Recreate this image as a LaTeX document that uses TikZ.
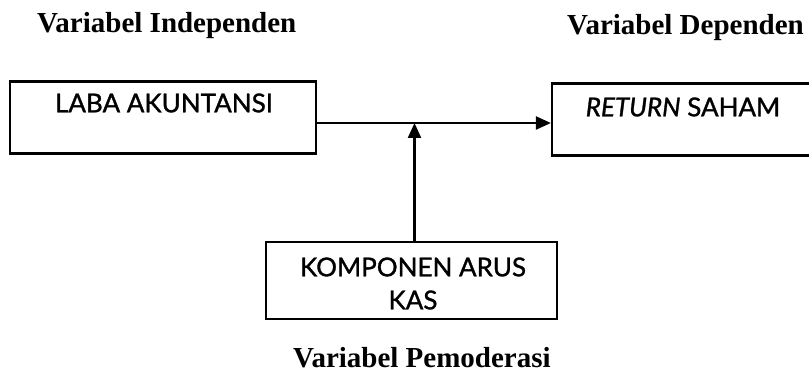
\documentclass[tikz,border=0pt]{standalone}
\usepackage{fontspec}
\setmainfont{Liberation Serif}
\newfontfamily\boxfont[FakeBold=1.2]{Lato}
\usetikzlibrary{arrows.meta}

\tikzset{
  varbox/.style={draw, line width=2.2pt, inner sep=0pt, minimum width=#1},
  boxtext/.style={font=\boxfont\fontsize{26}{33}\selectfont, inner sep=0pt, align=center},
  heading/.style={font=\bfseries\fontsize{29}{33}\selectfont, inner sep=0pt, anchor=base west},
  link/.style={line width=2.2pt, -{Triangle[length=15pt,width=13pt]}}
}

\begin{document}
\begin{tikzpicture}[x=1pt, y=-1pt]
  \useasboundingbox (0,0) rectangle (809,374);

  % column headings
  \node[heading] (hind) at (37,33) {Variabel Independen};
  \node[heading] (hdep) at (567,35) {Variabel Dependen};
  \node[heading] (hmod) at (293,367) {Variabel Pemoderasi};

  % variable boxes
  \node[varbox=306pt, minimum height=72pt] (lab) at (163,117.5) {};
  \node[varbox=262pt, minimum height=72pt] (ret) at (683,119.5) {};
  \node[varbox=291pt, minimum height=77pt] (kas) at (411.5,280.5) {};

  % box texts
  \node[boxtext] (labtxt) at (164,103) {LABA AKUNTANSI};
  \node[boxtext] (rettxt) at (683,107) {\itshape RETURN\upshape{} SAHAM};
  \node[boxtext] (kastxt) at (413,283.5) {KOMPONEN ARUS\\KAS};

  % connectors
  \coordinate (row) at (0,123);
  \draw[link] (lab.east |- row) -- (ret.west |- row);
  \draw[link] ([xshift=3pt]kas.north) -- ([xshift=3pt]kas.north |- row);
\end{tikzpicture}
\end{document}
